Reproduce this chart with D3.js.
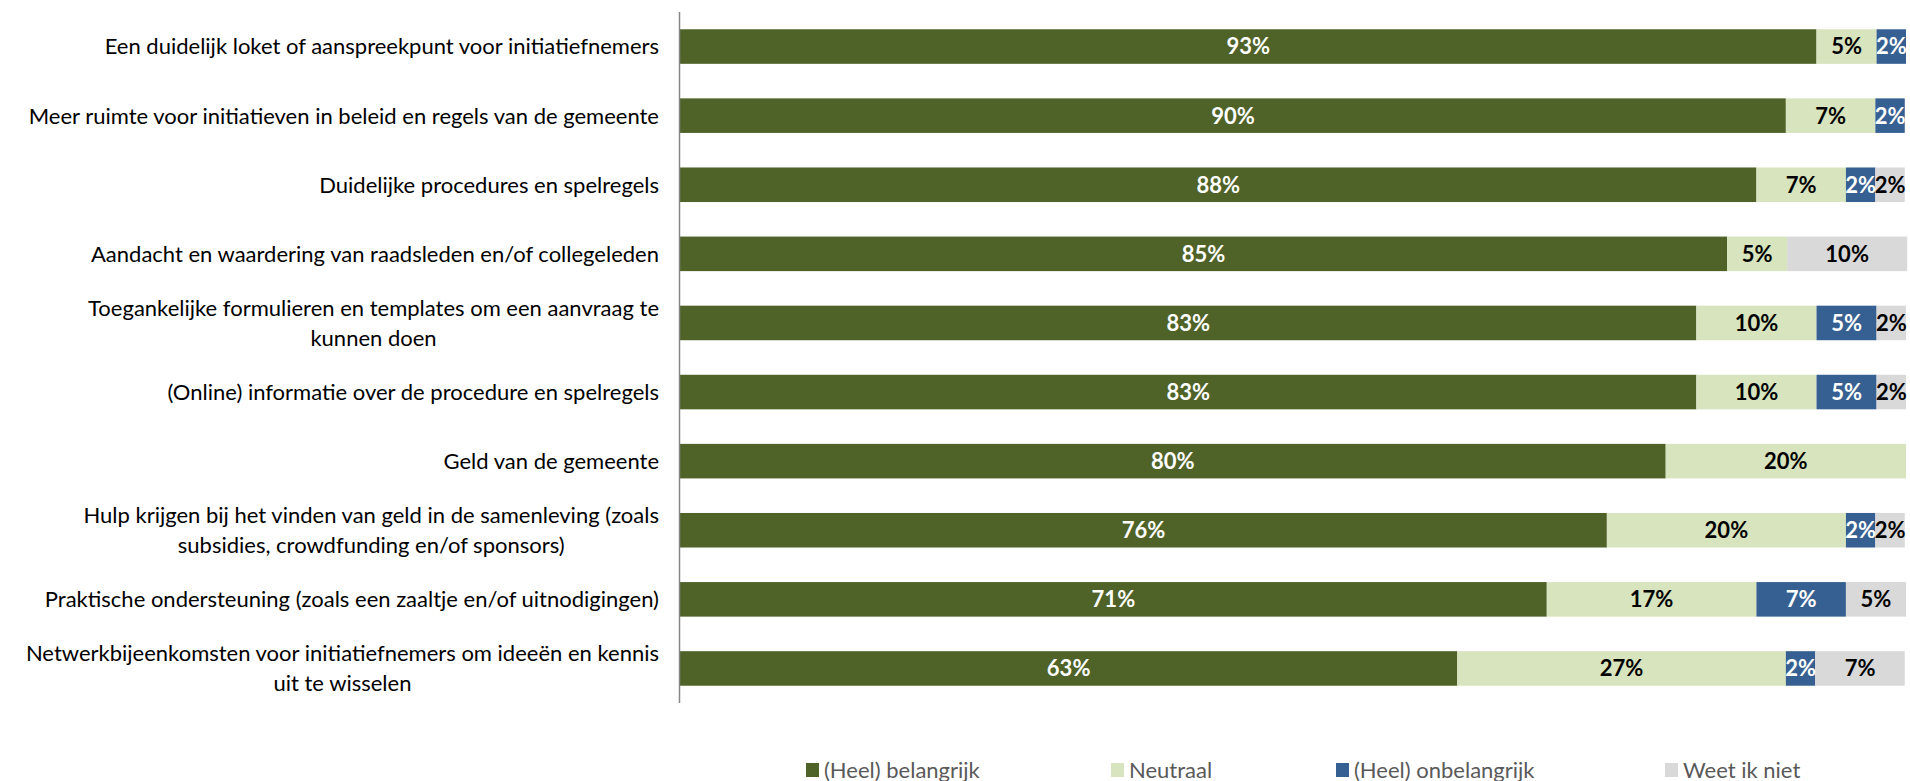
<!DOCTYPE html>
<html>
<head>
<meta charset="utf-8">
<script src="https://cdn.jsdelivr.net/npm/d3@7"></script>
<style>
  body { margin: 0; background: #fff; }
  text { font-family: Lato, "Open Sans", sans-serif; }
</style>
</head>
<body>
<svg id="chart" width="1910" height="781"></svg>
<script>
// categories (multi-line labels split with |)
var categories = [
  "Een duidelijk loket of aanspreekpunt voor initiatiefnemers",
  "Meer ruimte voor initiatieven in beleid en regels van de gemeente",
  "Duidelijke procedures en spelregels",
  "Aandacht en waardering van raadsleden en/of collegeleden",
  "Toegankelijke formulieren en templates om een aanvraag te|kunnen doen",
  "(Online) informatie over de procedure en spelregels",
  "Geld van de gemeente",
  "Hulp krijgen bij het vinden van geld in de samenleving (zoals|subsidies, crowdfunding en/of sponsors)",
  "Praktische ondersteuning (zoals een zaaltje en/of uitnodigingen)",
  "Netwerkbijeenkomsten voor initiatiefnemers om ideeën en kennis|uit te wisselen"
];

var seriesNames = ["(Heel) belangrijk", "Neutraal", "(Heel) onbelangrijk", "Weet ik niet"];
var seriesColors = ["#4F6228", "#D7E4BD", "#376092", "#D9D9D9"];
var labelColors = ["#ffffff", "#000000", "#ffffff", "#000000"];

// percentages per series (same order as categories)
var belangrijk   = [92.7, 90.2, 87.8, 85.4, 82.9, 82.9, 80.4, 75.6, 70.7, 63.4];
var neutraal     = [4.9, 7.3, 7.3, 4.9, 9.8, 9.8, 19.6, 19.5, 17.1, 26.8];
var onbelangrijk = [2.4, 2.4, 2.4, 0, 4.9, 4.9, 0, 2.4, 7.3, 2.4];
var weetNiet     = [0, 0, 2.4, 9.8, 2.4, 2.4, 0, 2.4, 4.9, 7.3];

var series = [belangrijk, neutraal, onbelangrijk, weetNiet];

var svg = d3.select("#chart");
var plotLeft = 680, plotRight = 1906, plotTop = 12, plotBottom = 703;
var fontSize = 22;

var x = d3.scaleLinear().domain([0, 100]).range([plotLeft, plotRight]);
var y = d3.scaleBand().domain(d3.range(categories.length)).range([plotTop, plotBottom])
  .paddingInner(0.5).paddingOuter(0.25);

// build stacked rows
var rows = categories.map(function (c, i) {
  var acc = 0;
  return series.map(function (s, k) {
    var seg = { row: i, k: k, x0: acc, x1: acc + s[i], v: s[i] };
    acc += s[i];
    return seg;
  });
});
var segs = [].concat.apply([], rows).filter(function (d) { return d.v > 0; });

svg.append("g").selectAll("rect")
  .data(segs).enter().append("rect")
  .attr("x", function (d) { return x(d.x0); })
  .attr("y", function (d) { return y(d.row); })
  .attr("width", function (d) { return x(d.x1) - x(d.x0); })
  .attr("height", y.bandwidth())
  .attr("fill", function (d) { return seriesColors[d.k]; });

svg.append("g").selectAll("text")
  .data(segs).enter().append("text")
  .attr("x", function (d) { return (x(d.x0) + x(d.x1)) / 2; })
  .attr("y", function (d) { return y(d.row) + y.bandwidth() / 2; })
  .attr("dy", "0.36em")
  .attr("text-anchor", "middle")
  .style("font-size", "22px")
  .style("font-weight", "bold")
  .style("fill", function (d) { return labelColors[d.k]; })
  .text(function (d) { return Math.round(d.v) + "%"; });

// axis line
svg.append("line")
  .attr("x1", plotLeft - 0.5).attr("x2", plotLeft - 0.5)
  .attr("y1", plotTop).attr("y2", plotBottom)
  .attr("stroke", "#868686").attr("stroke-width", 1.5);

// category labels, lines centred under the first line like Excel does
var labelRight = 659;
categories.forEach(function (c, i) {
  var lines = c.split("|");
  var cy = y(i) + y.bandwidth() / 2;
  var lh = 30;
  var g = svg.append("g");
  var first = g.append("text")
    .style("font-size", fontSize + "px")
    .text(lines[0]);
  var w = first.node().getComputedTextLength();
  var cx = labelRight - w / 2;
  first.remove();
  lines.forEach(function (ln, j) {
    g.append("text")
      .attr("x", lines.length > 1 ? cx : labelRight)
      .attr("y", cy + (j - (lines.length - 1) / 2) * lh)
      .attr("dy", "0.36em")
      .attr("text-anchor", lines.length > 1 ? "middle" : "end")
      .style("font-size", fontSize + "px").style("fill", "#000")
      .text(ln);
  });
});

// legend
var legendX = [806, 1111, 1336, 1665];
var legY = 770;
var leg = svg.append("g").selectAll("g")
  .data(seriesNames).enter().append("g")
  .attr("transform", function (d, i) { return "translate(" + legendX[i] + "," + legY + ")"; });
leg.append("rect")
  .attr("x", 0).attr("y", -7).attr("width", 13).attr("height", 14)
  .attr("fill", function (d, i) { return seriesColors[i]; });
leg.append("text")
  .attr("x", 18).attr("dy", "0.36em")
  .style("font-size", fontSize + "px").style("fill", "#595959")
  .text(function (d) { return d; });
</script>
</body>
</html>
